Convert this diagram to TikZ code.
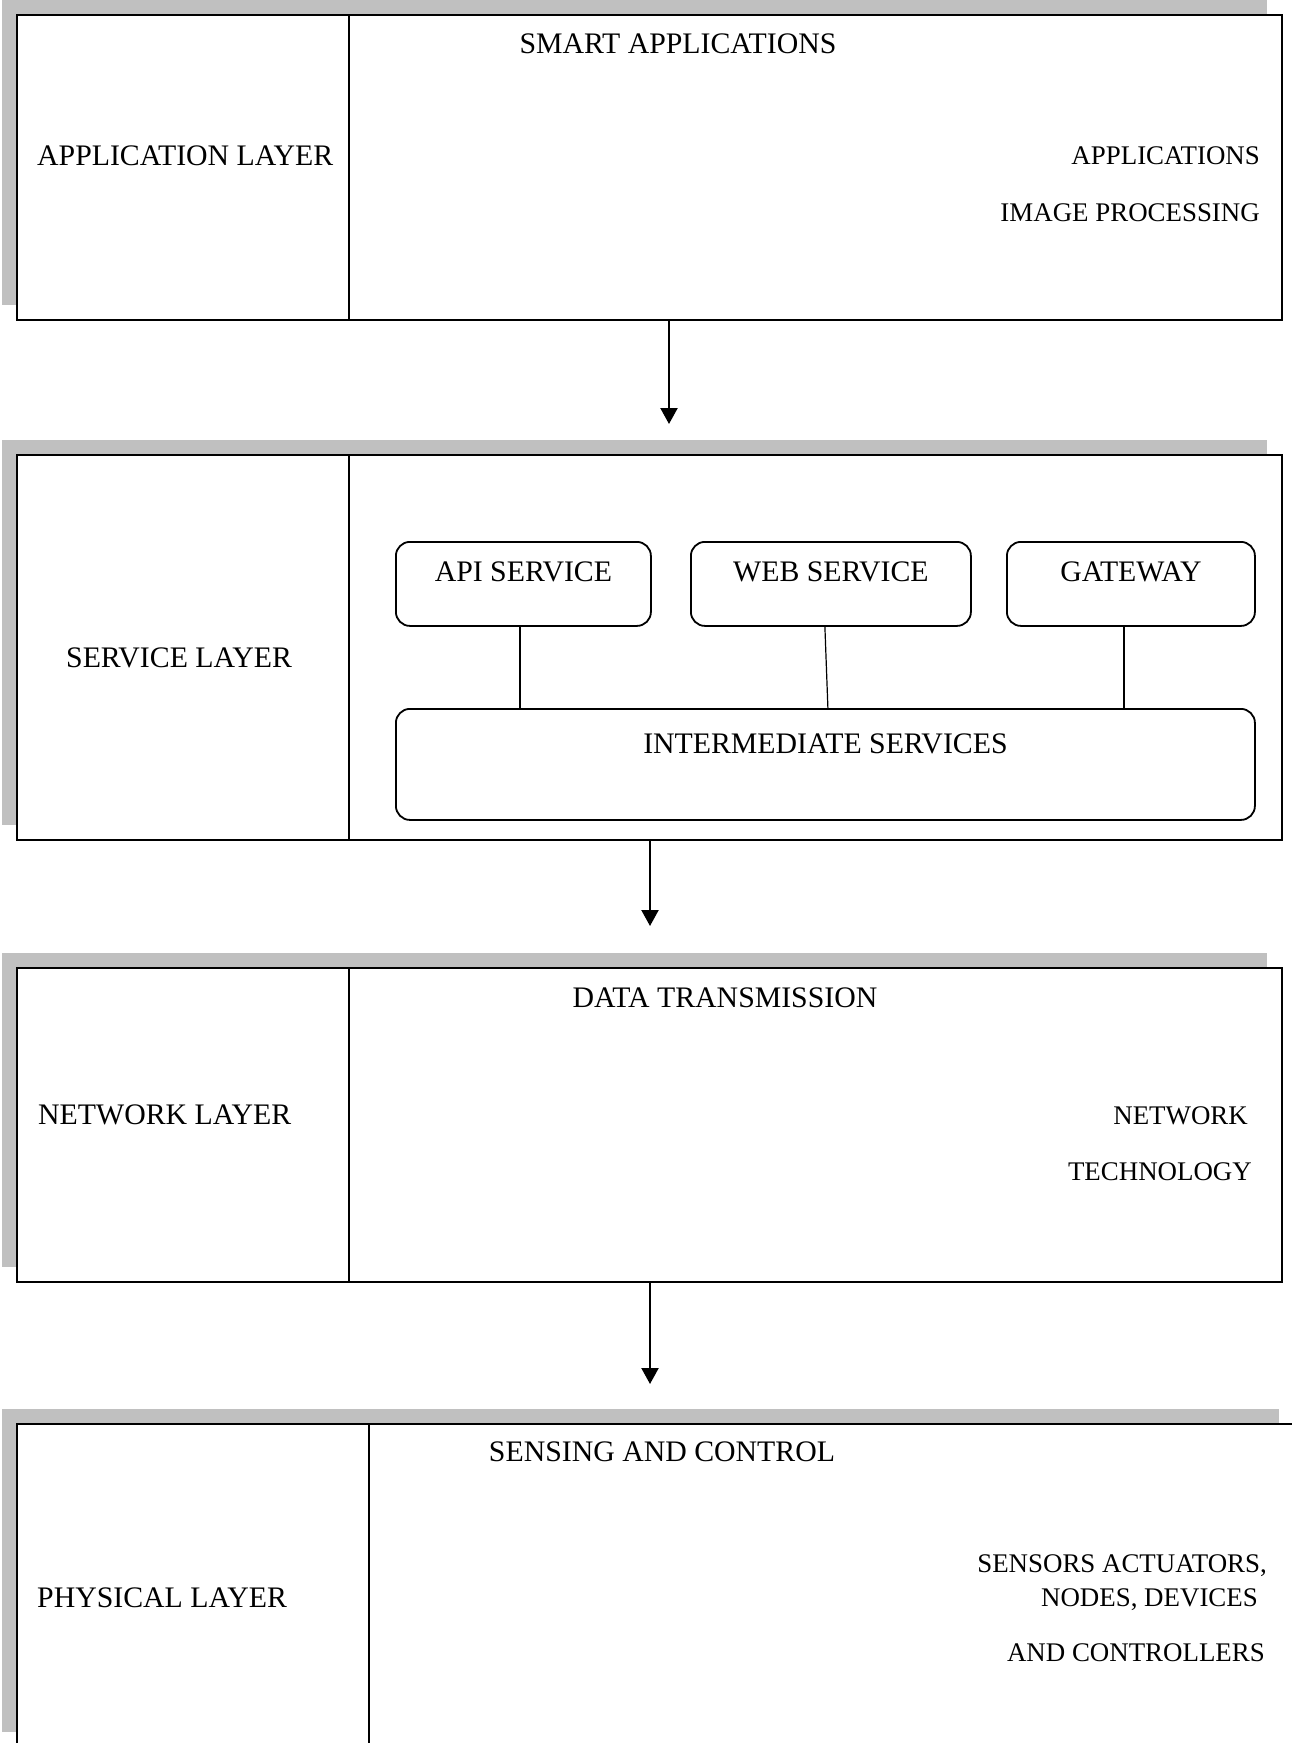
\documentclass[tikz,border=0pt]{standalone}
\usepackage{fontspec}
\setmainfont{Liberation Serif}
\usetikzlibrary{arrows.meta,shadows}
\definecolor{shadowgray}{RGB}{192,192,192}
\begin{document}
\begin{tikzpicture}[x=1pt,y=-1pt,
  layer/.style={draw=black, line width=2.4pt, fill=white, rectangle, inner sep=0pt, anchor=north west,
    general shadow={fill=shadowgray, shadow xshift=-15pt, shadow yshift=15pt}},
  divline/.style={line width=2.4pt},
  subbox/.style={draw=black, line width=1.8pt, rounded corners=14pt, rectangle, inner sep=0pt, anchor=north west},
  conn/.style={line width=1.2pt},
  arr/.style={line width=2.2pt, -{Triangle[width=17pt,length=16pt]}},
  big/.style={font=\fontsize{29.8}{35}\selectfont, inner sep=0pt},
  small/.style={font=\fontsize{26.9}{31}\selectfont, inner sep=0pt}
]
\useasboundingbox (0,0) rectangle (1292,1743);
\clip (0,0) rectangle (1292,1743);

% layer boxes
\node[layer, minimum width=1265pt, minimum height=305pt] (L1) at (16,14) {};
\node[layer, minimum width=1265pt, minimum height=385pt] (L2) at (16,454) {};
\node[layer, minimum width=1265pt, minimum height=314pt] (L3) at (16,967) {};
\node[layer, minimum width=1277pt, minimum height=323pt] (L4) at (16,1423) {};

% dividers
\draw[divline] ([xshift=333pt]L1.north west) -- ([xshift=333pt]L1.south west);
\draw[divline] ([xshift=333pt]L2.north west) -- ([xshift=333pt]L2.south west);
\draw[divline] ([xshift=333pt]L3.north west) -- ([xshift=333pt]L3.south west);
\draw[divline] ([xshift=353pt]L4.north west) -- ([xshift=353pt]L4.south west);

% application layer texts
\node[big, anchor=base] (t11) at (678,53) {SMART APPLICATIONS};
\node[big, anchor=base west] (t12) at (37,165) {APPLICATION LAYER};
\node[small, anchor=base east] (t13) at (1260,164) {APPLICATIONS};
\node[small, anchor=base east] (t14) at (1260,221) {IMAGE PROCESSING};

% service layer
\node[big, anchor=base west] (t21) at (66,667) {SERVICE LAYER};
\node[subbox, minimum width=255pt, minimum height=84pt] (API) at (395,541) {};
\node[subbox, minimum width=280pt, minimum height=84pt] (WEB) at (690,541) {};
\node[subbox, minimum width=248pt, minimum height=84pt] (GW) at (1006,541) {};
\node[subbox, minimum width=859pt, minimum height=111pt] (INT) at (395,708) {};
\node[big, anchor=base] (tapi) at ([yshift=-40pt]API.north) {API SERVICE};
\node[big, anchor=base] (tweb) at ([yshift=-40pt]WEB.north) {WEB SERVICE};
\node[big, anchor=base] (tgw) at ([yshift=-40pt]GW.north) {GATEWAY};
\node[big, anchor=base] (tint) at ([yshift=-45pt]INT.north) {INTERMEDIATE SERVICES};
\draw[conn] ([xshift=-3.5pt]API.south) -- ([xshift=-3.5pt]API.south |- INT.north);
\draw[conn] ([xshift=-6pt]WEB.south) -- ([xshift=-3pt]WEB.south |- INT.north);
\draw[conn] ([xshift=-7pt]GW.south) -- ([xshift=-7pt]GW.south |- INT.north);

% network layer
\node[big, anchor=base] (t31) at (725,1007) {DATA TRANSMISSION};
\node[big, anchor=base west] (t32) at (38,1124) {NETWORK LAYER};
\node[small, anchor=base east] (t33) at (1248,1124) {NETWORK};
\node[small, anchor=base east] (t34) at (1252,1180) {TECHNOLOGY};

% physical layer
\node[big, anchor=base] (t41) at (662,1461) {SENSING AND CONTROL};
\node[big, anchor=base west] (t42) at (37,1607) {PHYSICAL LAYER};
\node[small, anchor=base east] (t43) at (1267,1572) {SENSORS ACTUATORS,};
\node[small, anchor=base east] (t44) at (1258,1606) {NODES, DEVICES};
\node[small, anchor=base east] (t45) at (1265,1661) {AND CONTROLLERS};

% arrows
\coordinate (a1t) at (669,424);
\coordinate (a2t) at (650,926);
\coordinate (a3t) at (650,1384);
\draw[arr] (L1.south -| a1t) -- (a1t);
\draw[arr] (L2.south -| a2t) -- (a2t);
\draw[arr] (L3.south -| a3t) -- (a3t);
\end{tikzpicture}
\end{document}
